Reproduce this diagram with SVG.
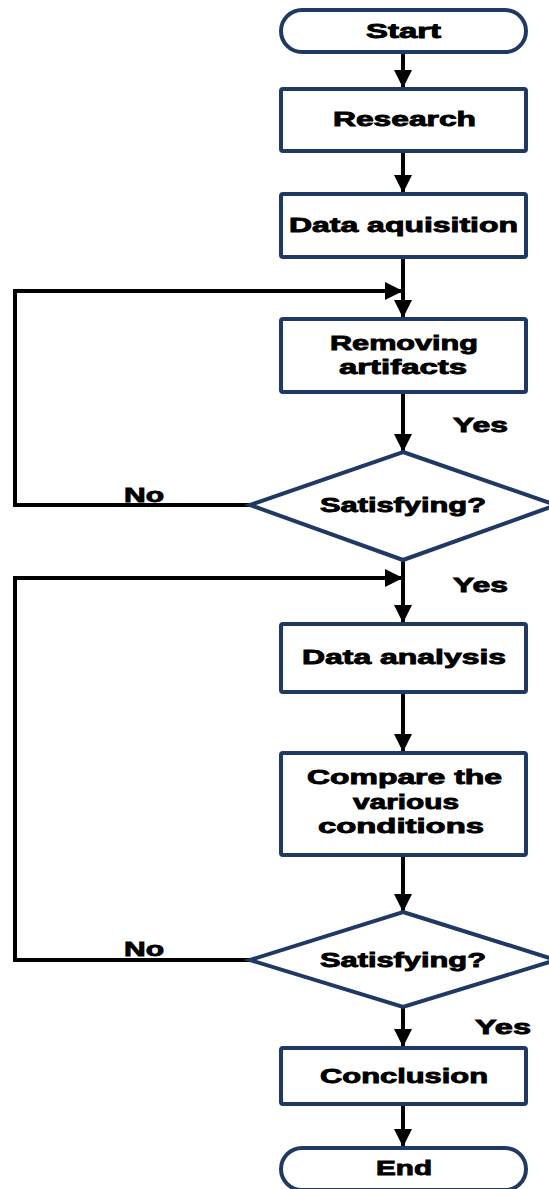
<svg xmlns="http://www.w3.org/2000/svg" width="549" height="1189" viewBox="0 0 549 1189">
<defs>
<marker id="ah" viewBox="0 0 10 10" refX="10" refY="5" markerWidth="4.5" markerHeight="4.5" orient="auto" markerUnits="strokeWidth">
<path d="M0,0 L10,5 L0,10 Z" fill="#000"/>
</marker>
<style>
.n{fill:#fff;stroke:#1f3864;stroke-width:4}
.t{font-family:"Liberation Sans",Arial,sans-serif;font-weight:bold;font-size:21px;fill:#000;stroke:#000;stroke-width:0.9}
.c{fill:none;stroke:#000;stroke-width:4}
.a{marker-end:url(#ah)}
</style>
</defs>
<rect width="549" height="1189" fill="#fff"/>
<g id="connectors">
<line class="c a" x1="403" y1="52" x2="403" y2="88"/>
<line class="c a" x1="403" y1="151" x2="403" y2="193"/>
<line class="c a" x1="403" y1="257" x2="403" y2="318"/>
<line class="c a" x1="403" y1="392" x2="403" y2="452"/>
<line class="c a" x1="403" y1="560" x2="403" y2="623"/>
<line class="c a" x1="403" y1="692" x2="403" y2="752"/>
<line class="c a" x1="403" y1="855" x2="403" y2="912"/>
<line class="c a" x1="403" y1="1007" x2="403" y2="1047"/>
<line class="c a" x1="403" y1="1104" x2="403" y2="1147"/>
<polyline class="c a" points="250,505 15,505 15,291 403,291"/>
<polyline class="c a" points="250,960 15,960 15,578 403,578"/>
<text class="t" x="453" y="432" textLength="55" lengthAdjust="spacingAndGlyphs">Yes</text>
<text class="t" x="124" y="502" textLength="40" lengthAdjust="spacingAndGlyphs">No</text>
<text class="t" x="453" y="592" textLength="55" lengthAdjust="spacingAndGlyphs">Yes</text>
<text class="t" x="124" y="956" textLength="40" lengthAdjust="spacingAndGlyphs">No</text>
<text class="t" x="475" y="1034" textLength="56" lengthAdjust="spacingAndGlyphs">Yes</text>
</g>
<g id="start">
<rect class="n" x="281" y="10" width="245" height="42" rx="21"/>
<text class="t" x="366" y="38" textLength="75" lengthAdjust="spacingAndGlyphs">Start</text>
</g>
<g id="research">
<rect class="n" x="281" y="89" width="245" height="62" rx="2"/>
<text class="t" x="333" y="126" textLength="143" lengthAdjust="spacingAndGlyphs">Research</text>
</g>
<g id="data-aquisition">
<rect class="n" x="281" y="194" width="245" height="63" rx="2"/>
<text class="t" x="289" y="232" textLength="229" lengthAdjust="spacingAndGlyphs">Data aquisition</text>
</g>
<g id="removing-artifacts">
<rect class="n" x="281" y="319" width="245" height="73" rx="2"/>
<text class="t" x="330" y="350" textLength="148" lengthAdjust="spacingAndGlyphs">Removing</text>
<text class="t" x="339" y="374" textLength="128" lengthAdjust="spacingAndGlyphs">artifacts</text>
</g>
<g id="satisfying-1">
<polygon class="n" points="403,452 556,505 403,560 250,505"/>
<text class="t" x="320" y="512" textLength="166" lengthAdjust="spacingAndGlyphs">Satisfying?</text>
</g>
<g id="data-analysis">
<rect class="n" x="281" y="624" width="245" height="68" rx="2"/>
<text class="t" x="302" y="664" textLength="204" lengthAdjust="spacingAndGlyphs">Data analysis</text>
</g>
<g id="compare">
<rect class="n" x="281" y="753" width="245" height="102" rx="2"/>
<text class="t" x="307" y="784" textLength="195" lengthAdjust="spacingAndGlyphs">Compare the</text>
<text class="t" x="353" y="809" textLength="106" lengthAdjust="spacingAndGlyphs">various</text>
<text class="t" x="318" y="833" textLength="166" lengthAdjust="spacingAndGlyphs">conditions</text>
</g>
<g id="satisfying-2">
<polygon class="n" points="403,912 556,960 403,1007 250,960"/>
<text class="t" x="320" y="967" textLength="166" lengthAdjust="spacingAndGlyphs">Satisfying?</text>
</g>
<g id="conclusion">
<rect class="n" x="281" y="1048" width="245" height="56" rx="2"/>
<text class="t" x="320" y="1083" textLength="168" lengthAdjust="spacingAndGlyphs">Conclusion</text>
</g>
<g id="end">
<rect class="n" x="281" y="1148" width="245" height="42" rx="21"/>
<text class="t" x="376" y="1175" textLength="56" lengthAdjust="spacingAndGlyphs">End</text>
</g>
</svg>
